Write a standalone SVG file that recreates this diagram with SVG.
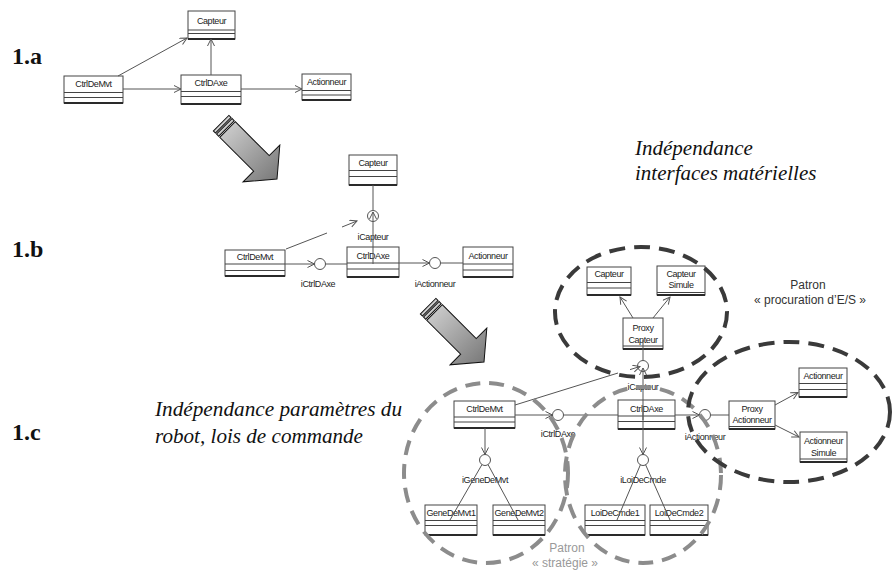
<svg xmlns="http://www.w3.org/2000/svg" width="894" height="571" viewBox="0 0 894 571">
<style>
.box rect{fill:#fff;stroke:#444;stroke-width:1}
.box line{stroke:#444;stroke-width:1}
.box line.bt{stroke:#2a2a2a;stroke-width:2}
.box text,.lbl{font-family:"Liberation Sans",Arial,sans-serif;font-size:9px;letter-spacing:-0.4px;text-anchor:middle;fill:#222}
.itf circle{fill:#fff;stroke:#555;stroke-width:1}
.conn line{stroke:#555;stroke-width:1;fill:none}
.conn line.a{marker-end:url(#oa)}
.big{font-family:"Liberation Serif","Times New Roman",serif;font-size:24px;font-weight:bold;fill:#111}
.pat{font-family:"Liberation Sans",Arial,sans-serif;font-size:12px;text-anchor:middle}
.bd{fill:none;stroke:#3a3a3a;stroke-width:4;stroke-dasharray:16 9}
.gd{fill:none;stroke:#8c8c8c;stroke-width:4;stroke-dasharray:15 9}
.bigarrow polygon,.bigarrow rect{fill:url(#ag);stroke:#111;stroke-width:1}
</style>
<defs>
<marker id="oa" markerUnits="userSpaceOnUse" markerWidth="10" markerHeight="9" refX="7.5" refY="4" orient="auto">
<path d="M0.5,0.5 L7.5,4 L0.5,7.5" fill="none" stroke="#555" stroke-width="1"/>
</marker>
<linearGradient id="ag" gradientUnits="userSpaceOnUse" x1="-79" y1="0" x2="0" y2="0">
<stop offset="0" stop-color="#d2d2d2"/>
<stop offset="1" stop-color="#7a7a7a"/>
</linearGradient>
</defs>

<text class="big" x="12" y="64">1.a</text>
<text class="big" x="12" y="257">1.b</text>
<text class="big" x="12" y="440">1.c</text>

<text x="635" y="155" font-family="Liberation Serif, serif" font-size="21" font-style="italic" fill="#111">Indépendance</text>
<text x="635" y="180" font-family="Liberation Serif, serif" font-size="21" font-style="italic" fill="#111">interfaces matérielles</text>
<text x="155" y="416" font-family="Liberation Serif, serif" font-size="21" font-style="italic" fill="#111" textLength="247" lengthAdjust="spacingAndGlyphs">Indépendance paramètres du</text>
<text x="155" y="443" font-family="Liberation Serif, serif" font-size="21" font-style="italic" fill="#111" textLength="208" lengthAdjust="spacingAndGlyphs">robot, lois de commande</text>

<g id="bigarrow1" class="bigarrow" transform="translate(277,179) rotate(45)">
<rect x="-79" y="-11" width="3" height="22"/>
<rect x="-74.5" y="-11" width="3" height="22"/>
<polygon points="-70,-11 -22,-11 -22,-26 0,0 -22,26 -22,11 -70,11"/>
</g>
<g id="bigarrow2" class="bigarrow" transform="translate(484,362) rotate(45)">
<rect x="-79" y="-11" width="3" height="22"/>
<rect x="-74.5" y="-11" width="3" height="22"/>
<polygon points="-70,-11 -22,-11 -22,-26 0,0 -22,26 -22,11 -70,11"/>
</g>

<g id="a-capteur" class="box"><rect x="188" y="11" width="47" height="28"/><line x1="188" y1="30" x2="235" y2="30"/><line x1="188" y1="33.5" x2="235" y2="33.5"/><line class="bt" x1="188" y1="39" x2="235" y2="39"/><text x="211.5" y="24">Capteur</text></g>
<g id="a-ctrldemvt" class="box"><rect x="64" y="76" width="59" height="27"/><line x1="64" y1="92.5" x2="123" y2="92.5"/><line x1="64" y1="97.5" x2="123" y2="97.5"/><line class="bt" x1="64" y1="103" x2="123" y2="103"/><text x="93.5" y="87">CtrlDeMvt</text></g>
<g id="a-ctrldaxe" class="box"><rect x="181" y="75" width="60" height="29"/><line x1="181" y1="91.5" x2="241" y2="91.5"/><line x1="181" y1="96.5" x2="241" y2="96.5"/><line class="bt" x1="181" y1="104" x2="241" y2="104"/><text x="211" y="86">CtrlDAxe</text></g>
<g id="a-actionneur" class="box"><rect x="302" y="74" width="49" height="26"/><line x1="302" y1="90.5" x2="351" y2="90.5"/><line x1="302" y1="95" x2="351" y2="95"/><line class="bt" x1="302" y1="100" x2="351" y2="100"/><text x="326.5" y="85">Actionneur</text></g>

<g id="b-capteur" class="box"><rect x="349" y="155" width="48" height="30"/><line x1="349" y1="170.5" x2="397" y2="170.5"/><line x1="349" y1="176.5" x2="397" y2="176.5"/><line class="bt" x1="349" y1="185" x2="397" y2="185"/><text x="373" y="166">Capteur</text></g>
<g id="b-ctrldemvt" class="box"><rect x="225" y="250" width="60" height="26"/><line x1="225" y1="264" x2="285" y2="264"/><line x1="225" y1="270.5" x2="285" y2="270.5"/><line class="bt" x1="225" y1="276" x2="285" y2="276"/><text x="255" y="260">CtrlDeMvt</text></g>
<g id="b-ctrldaxe" class="box"><rect x="347" y="247" width="52" height="30"/><line x1="347" y1="263" x2="399" y2="263"/><line x1="347" y1="269" x2="399" y2="269"/><line class="bt" x1="347" y1="277" x2="399" y2="277"/><text x="373" y="258.5">CtrlDAxe</text></g>
<g id="b-actionneur" class="box"><rect x="463" y="247" width="50" height="30"/><line x1="463" y1="264" x2="513" y2="264"/><line x1="463" y1="270" x2="513" y2="270"/><line class="bt" x1="463" y1="277" x2="513" y2="277"/><text x="488" y="259">Actionneur</text></g>
<g id="b-icapteur" class="itf"><circle cx="373" cy="216" r="5.5"/><text class="lbl" x="373" y="240">iCapteur</text></g>
<g id="b-ictrldaxe" class="itf"><circle cx="320" cy="264" r="5.5"/><text class="lbl" x="318" y="287">iCtrlDAxe</text></g>
<g id="b-iactionneur" class="itf"><circle cx="435" cy="263" r="5.5"/><text class="lbl" x="435" y="287">iActionneur</text></g>

<g id="c-ctrldemvt" class="box"><rect x="454" y="401" width="61" height="27"/><line x1="454" y1="417" x2="515" y2="417"/><line x1="454" y1="422" x2="515" y2="422"/><line class="bt" x1="454" y1="428" x2="515" y2="428"/><text x="484.5" y="412">CtrlDeMvt</text></g>
<g id="c-ctrldaxe" class="box"><rect x="618" y="400" width="57" height="29"/><line x1="618" y1="416" x2="675" y2="416"/><line x1="618" y1="421.5" x2="675" y2="421.5"/><line class="bt" x1="618" y1="429" x2="675" y2="429"/><text x="646.5" y="411.5">CtrlDAxe</text></g>
<g id="c-genedemvt1" class="box"><rect x="425" y="505" width="52" height="30"/><line x1="425" y1="520.5" x2="477" y2="520.5"/><line x1="425" y1="525.5" x2="477" y2="525.5"/><line class="bt" x1="425" y1="535" x2="477" y2="535"/><text x="451" y="516">GeneDeMvt1</text></g>
<g id="c-genedemvt2" class="box"><rect x="493" y="505" width="52" height="30"/><line x1="493" y1="520.5" x2="545" y2="520.5"/><line x1="493" y1="525.5" x2="545" y2="525.5"/><line class="bt" x1="493" y1="535" x2="545" y2="535"/><text x="519" y="516">GeneDeMvt2</text></g>
<g id="c-loidecmde1" class="box"><rect x="585" y="505" width="60" height="30"/><line x1="585" y1="520.5" x2="645" y2="520.5"/><line x1="585" y1="525.5" x2="645" y2="525.5"/><line class="bt" x1="585" y1="535" x2="645" y2="535"/><text x="615" y="516">LoiDeCmde1</text></g>
<g id="c-loidecmde2" class="box"><rect x="650" y="505" width="58" height="30"/><line x1="650" y1="520.5" x2="708" y2="520.5"/><line x1="650" y1="525.5" x2="708" y2="525.5"/><line class="bt" x1="650" y1="535" x2="708" y2="535"/><text x="679" y="516">LoiDeCmde2</text></g>
<g id="c-capteur" class="box"><rect x="587" y="267" width="44" height="28"/><line x1="587" y1="282.5" x2="631" y2="282.5"/><line x1="587" y1="288" x2="631" y2="288"/><line class="bt" x1="587" y1="295" x2="631" y2="295"/><text x="609" y="277">Capteur</text></g>
<g id="c-capteursimule" class="box"><rect x="657" y="266" width="48" height="29"/><line x1="657" y1="292.5" x2="705" y2="292.5"/><line class="bt" x1="657" y1="295" x2="705" y2="295"/><text x="681" y="277">Capteur</text><text x="681" y="288">Simule</text></g>
<g id="c-proxycapteur" class="box"><rect x="623" y="318" width="40" height="31"/><line x1="623" y1="346" x2="663" y2="346"/><line class="bt" x1="623" y1="349" x2="663" y2="349"/><text x="643" y="331">Proxy</text><text x="643" y="342.5">Capteur</text></g>
<g id="c-proxyactionneur" class="box"><rect x="729" y="401" width="46" height="28"/><line x1="729" y1="426.5" x2="775" y2="426.5"/><line class="bt" x1="729" y1="429" x2="775" y2="429"/><text x="752" y="412">Proxy</text><text x="752" y="423">Actionneur</text></g>
<g id="c-actionneur" class="box"><rect x="799" y="368" width="48" height="29"/><line x1="799" y1="383.5" x2="847" y2="383.5"/><line x1="799" y1="389.5" x2="847" y2="389.5"/><line class="bt" x1="799" y1="397" x2="847" y2="397"/><text x="823" y="379">Actionneur</text></g>
<g id="c-actionneursimule" class="box"><rect x="800" y="432" width="47" height="30"/><line x1="800" y1="459" x2="847" y2="459"/><line class="bt" x1="800" y1="462" x2="847" y2="462"/><text x="823.5" y="444">Actionneur</text><text x="823.5" y="456">Simule</text></g>
<g id="c-icapteur" class="itf"><circle cx="643" cy="366" r="5.5"/><text class="lbl" x="643" y="390">iCapteur</text></g>
<g id="c-ictrldaxe" class="itf"><circle cx="558" cy="415" r="5.5"/><text class="lbl" x="558" y="437">iCtrlDAxe</text></g>
<g id="c-iactionneur" class="itf"><circle cx="705" cy="415" r="5.5"/><text class="lbl" x="705" y="440">iActionneur</text></g>
<g id="c-igenedemvt" class="itf"><circle cx="485" cy="460" r="5.5"/><text class="lbl" x="485" y="483">iGeneDeMvt</text></g>
<g id="c-iloidecmde" class="itf"><circle cx="643" cy="460" r="5.5"/><text class="lbl" x="643" y="483">iLoiDeCmde</text></g>

<g id="connectors" class="conn">
<line class="a" x1="118" y1="76" x2="187" y2="38"/>
<line class="a" x1="123" y1="89" x2="181" y2="89"/>
<line class="a" x1="211" y1="75" x2="211" y2="39"/>
<line class="a" x1="241" y1="89" x2="302" y2="89"/>
<line x1="373" y1="185" x2="373" y2="210.5"/>
<line class="a" x1="373" y1="264" x2="373" y2="212"/>
<line x1="286" y1="249" x2="327" y2="233"/>
<line class="a" x1="342" y1="227" x2="357" y2="221"/>
<line class="a" x1="285" y1="264" x2="314.5" y2="264"/>
<line x1="325.5" y1="264" x2="347" y2="264"/>
<line class="a" x1="399" y1="263" x2="429.5" y2="263"/>
<line x1="440.5" y1="263" x2="463" y2="263"/>
<line x1="515" y1="405" x2="618" y2="373"/>
<line class="a" x1="630" y1="369.6" x2="640" y2="366.5"/>
<line x1="643" y1="340" x2="643" y2="360.5"/>
<line class="a" x1="643" y1="420" x2="643" y2="368"/>
<line class="a" x1="633" y1="318" x2="620" y2="297"/>
<line class="a" x1="653" y1="318" x2="670" y2="297"/>
<line class="a" x1="515" y1="415" x2="552.5" y2="415"/>
<line x1="563.5" y1="415" x2="618" y2="415"/>
<line class="a" x1="675" y1="415" x2="699.5" y2="415"/>
<line x1="710.5" y1="415" x2="729" y2="415"/>
<line class="a" x1="775" y1="405" x2="798" y2="392.5"/>
<line class="a" x1="775" y1="425" x2="799" y2="437"/>
<line class="a" x1="485" y1="428" x2="485" y2="454.5"/>
<line x1="450" y1="520" x2="482" y2="464.5"/>
<line x1="518" y1="520" x2="488" y2="464.5"/>
<line class="a" x1="643" y1="412" x2="643" y2="454.5"/>
<line x1="617" y1="520" x2="640.5" y2="464.5"/>
<line x1="670" y1="520" x2="645.5" y2="464.5"/>
</g>

<g id="patterns">
<ellipse class="gd" cx="486" cy="473" rx="82" ry="90"/>
<ellipse class="gd" cx="643" cy="475" rx="78" ry="88"/>
<ellipse class="bd" cx="641" cy="312" rx="86" ry="65"/>
<ellipse class="bd" cx="789" cy="412" rx="101" ry="70"/>
</g>

<text class="pat" x="808" y="289" fill="#333">Patron</text>
<text class="pat" x="810" y="304" fill="#333">« procuration d’E/S »</text>
<text class="pat" x="567" y="552" fill="#999">Patron</text>
<text class="pat" x="565" y="567" fill="#999">« stratégie »</text>
</svg>
